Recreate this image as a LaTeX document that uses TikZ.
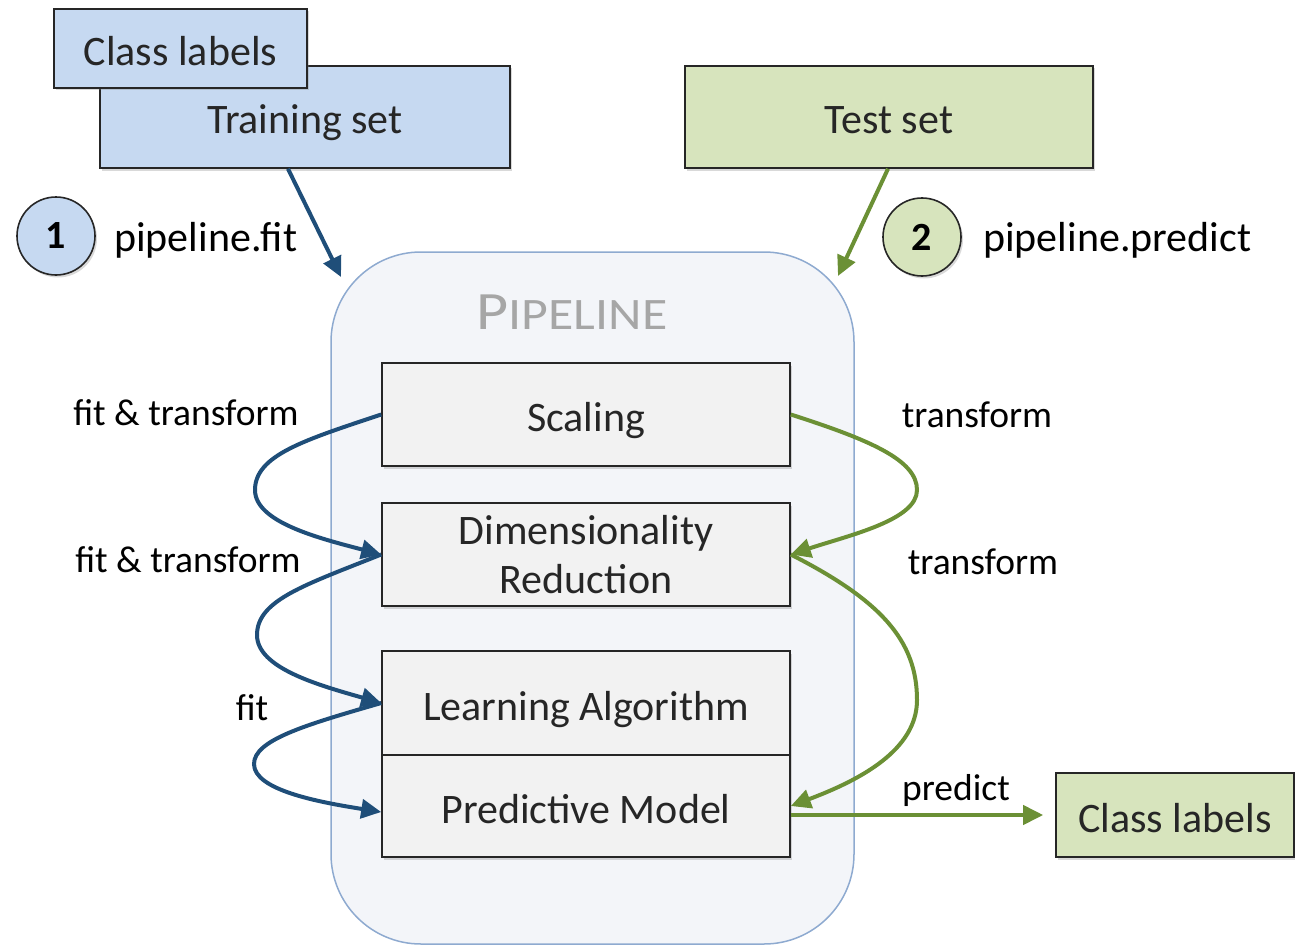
\documentclass[tikz,border=0pt]{standalone}
\usepackage{fontspec}
\setmainfont{Carlito}
\usetikzlibrary{arrows.meta,shadows}

\definecolor{bluefill}{HTML}{C6D9F1}
\definecolor{greenfill}{HTML}{D7E4BD}
\definecolor{bluearrow}{HTML}{1F4E79}
\definecolor{greenarrow}{HTML}{6B9035}
\definecolor{pipefill}{HTML}{F3F5F9}
\definecolor{pipeborder}{HTML}{8EAAD0}
\definecolor{stagefill}{HTML}{F2F2F2}
\definecolor{inkdark}{HTML}{262626}
\definecolor{titlegray}{HTML}{A6A6A6}

\tikzset{
  boxtext/.style={font=\fontsize{42}{49}\selectfont, text=inkdark},
  oneline/.style={text height=34pt, text depth=0pt},
  labeltext/.style={font=\fontsize{37.5}{44}\selectfont, text=black, inner sep=0pt},
  shadowed/.style={drop shadow={shadow xshift=2pt, shadow yshift=-2.5pt, opacity=0.3}},
  databox/.style={boxtext, oneline, draw=inkdark, line width=1.6pt, shadowed},
  stagebox/.style={boxtext, draw=inkdark, line width=1.6pt, fill=stagefill,
    minimum width=408pt, align=center, shadowed},
  stepcircle/.style={circle, draw=inkdark, line width=1.6pt, minimum size=78pt,
    inner sep=0pt, font=\fontsize{40}{40}\selectfont\bfseries, text=black, shadowed},
  fitflow/.style={draw=bluearrow, line width=4pt, -{Triangle[length=20pt,width=19pt]}},
  predictflow/.style={draw=greenarrow, line width=4pt, -{Triangle[length=20pt,width=19pt]}},
}

\begin{document}
\begin{tikzpicture}[x=1pt, y=-1pt]
\useasboundingbox (0,0) rectangle (1295,947);

% pipeline container
\node[draw=pipeborder, line width=1.5pt, fill=pipefill, rounded corners=90pt,
      minimum width=523pt, minimum height=692pt] (pipe) at (592.5,598) {};
\node[text=titlegray] (title) at (572,312)
  {\scalebox{1.15}[1]{\fontsize{54}{54}\selectfont P\fontsize{45}{45}\selectfont IPELINE}};

% input data
\node[databox, fill=bluefill, minimum width=410pt, minimum height=102pt] (train) at (305,117) {Training set};
\node[databox, fill=bluefill, minimum width=253pt, minimum height=79pt] (clstop) at (180.5,48.5) {Class labels};
\node[databox, fill=greenfill, minimum width=408pt, minimum height=102pt] (test) at (889,117) {Test set};

% step markers
\node[stepcircle, fill=bluefill] (one) at (56,236) {1};
\node[labeltext, font=\fontsize{42}{49}\selectfont, anchor=west] (fitcall) at (114,240) {pipeline.fit};
\node[stepcircle, fill=greenfill] (two) at (922,237) {2};
\node[labeltext, font=\fontsize{42}{49}\selectfont, anchor=west] (predcall) at (983,240) {pipeline.predict};

% pipeline stages
\node[stagebox, oneline, minimum height=103pt] (scaling) at (586,414.5) {Scaling};
\node[stagebox, minimum height=103pt] (dimred) at (586,554.5) {\raisebox{-3pt}{Dimensionality}\\\raisebox{-3pt}{Reduction}};
\node[stagebox, oneline, minimum height=104pt] (learn) at (586,703) {Learning Algorithm};
\node[stagebox, oneline, minimum height=102pt] (predmodel) at (586,806) {Predictive Model};

% output
\node[databox, fill=greenfill, minimum width=238pt, minimum height=84pt] (clsout) at (1175,815) {Class labels};

% entry arrows
\coordinate (fitin) at (341,277);
\coordinate (predin) at (838,276);
\draw[fitflow] ([xshift=-17pt]train.south) -- (fitin);
\draw[predictflow] ([xshift=-1pt]test.south) -- (predin);

% fit path
\draw[fitflow] (scaling.west) .. controls (305,440) and (255,455) .. (255,490)
  .. controls (255,522) and (318,538) .. (dimred.west);
\draw[fitflow] (dimred.west) .. controls (305,585) and (257,600) .. (257,635)
  .. controls (257,668) and (318,685) .. (learn.west);
\draw[fitflow] (learn.west) .. controls (305,725) and (254,740) .. (254,764)
  .. controls (254,790) and (318,802) .. ([yshift=-6pt]predmodel.west);

% predict path
\draw[predictflow] (scaling.east) .. controls (870,440) and (917,460) .. (917,490)
  .. controls (917,520) and (850,535) .. (dimred.east);
\draw[predictflow] (dimred.east) .. controls (880,600) and (917,640) .. (917,700)
  .. controls (917,750) and (860,780) .. (predmodel.east);
\draw[predictflow] (predmodel.east |- clsout.west) -- ([xshift=-12pt]clsout.west);

% step labels
\node[labeltext] (ft1) at (186,413) {fit \& transform};
\node[labeltext] (ft2) at (188,560) {fit \& transform};
\node[labeltext] (fitonly) at (252,708) {fit};
\node[labeltext] (tr1) at (977,415) {transform};
\node[labeltext] (tr2) at (983,562) {transform};
\node[labeltext] (predlabel) at (956,790) {predict};
\end{tikzpicture}
\end{document}
